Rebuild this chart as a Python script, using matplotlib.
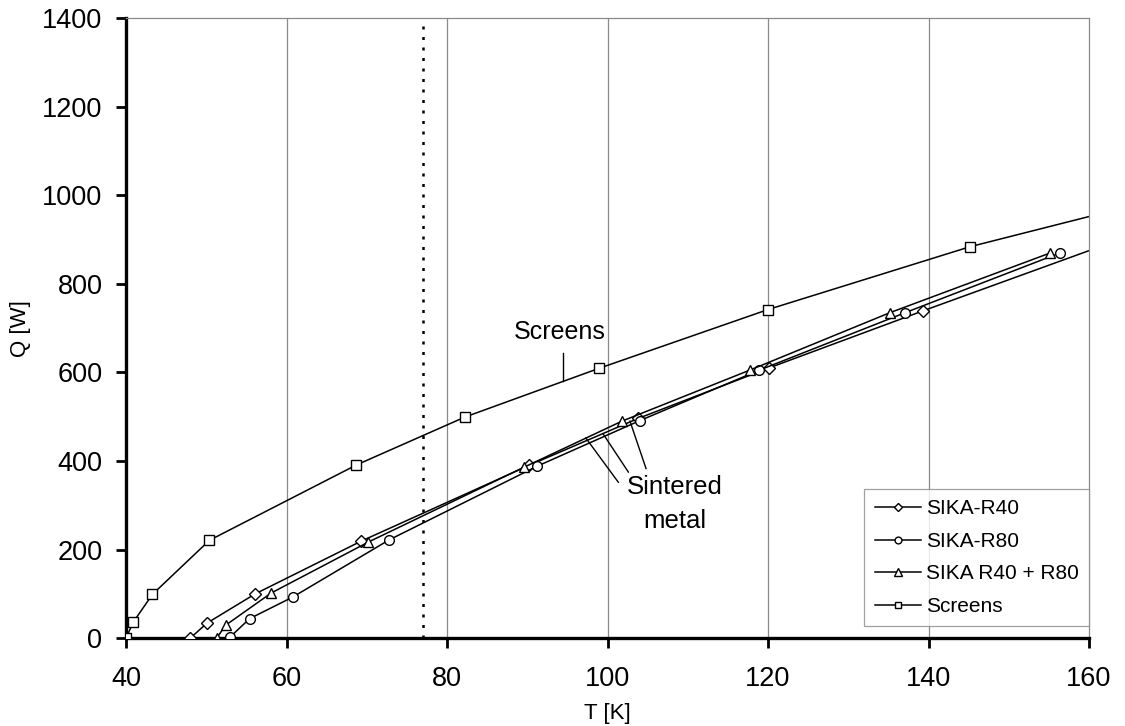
#!/usr/bin/env python3
"""
Heat load Q versus temperature T for sintered metal regenerators and screens.
"""

import matplotlib
matplotlib.use("Agg")
import matplotlib.pyplot as plt

plt.rcParams["font.family"] = ["Liberation Sans", "DejaVu Sans"]

# Measured points (T in K, Q in W)
T_R40 = [48.0, 50.1, 56.1, 69.3, 90.2, 103.8, 120.1, 139.3]
Q_R40 = [0, 34, 100, 219, 390, 496, 610, 739]

T_R80 = [53.0, 55.4, 60.8, 72.8, 91.2, 104.0, 118.9, 137.1, 156.4]
Q_R80 = [3, 44, 93, 222, 388, 491, 605, 735, 870]

T_R40_R80 = [51.3, 52.4, 58.1, 70.2, 89.6, 101.8, 117.7, 135.2, 155.2]
Q_R40_R80 = [0, 29, 102, 217, 386, 490, 605, 735, 870]

T_SCREENS = [40.0, 40.9, 43.3, 50.4, 68.7, 82.2, 98.9, 120.0, 145.2]
Q_SCREENS = [0, 36, 99, 221, 391, 499, 609, 742, 884]

# Extrapolated end points of the curves up to 160 K
T_R40_EXT = [139.3, 160.0]
Q_R40_EXT = [739, 875]
T_SCREENS_EXT = [145.2, 160.0]
Q_SCREENS_EXT = [884, 952]

T_LN2 = 77  # liquid nitrogen temperature

X_TICKS = [40, 60, 80, 100, 120, 140, 160]
Y_TICKS = [0, 200, 400, 600, 800, 1000, 1200, 1400]

SERIES = [
    ("SIKA-R40", T_R40, Q_R40, "D", 6.0),
    ("SIKA-R80", T_R80, Q_R80, "o", 7.0),
    ("SIKA R40 + R80", T_R40_R80, Q_R40_R80, "^", 7.5),
    ("Screens", T_SCREENS, Q_SCREENS, "s", 7.0),
]


fig = plt.figure(figsize=(11.25, 7.26), dpi=100)
ax = fig.add_axes([0.112, 0.121, 0.856, 0.854])

for x in X_TICKS[1:-1]:
    ax.axvline(x, color="#8a8a8a", linewidth=0.9, zorder=0)
ax.axvline(T_LN2, color="black", linestyle=(0, (1.2, 3)), linewidth=1.8, zorder=1)

ax.plot(T_R40_EXT, Q_R40_EXT, color="black", linewidth=1.1, zorder=2)
ax.plot(T_SCREENS_EXT, Q_SCREENS_EXT, color="black", linewidth=1.1, zorder=2)

for label, t, q, marker, size in SERIES:
    ax.plot(
        t,
        q,
        color="black",
        linewidth=1.1,
        marker=marker,
        markersize=size,
        markerfacecolor="white",
        markeredgecolor="black",
        markeredgewidth=1.0,
        label=label,
        zorder=3,
    )

# Annotations
ax.text(94.0, 665, "Screens", fontsize=18, ha="center", va="bottom")
ax.plot([94.5, 94.5], [643, 580], color="black", linewidth=1.0)

ax.text(108.4, 368, "Sintered\nmetal", fontsize=18.5, ha="center", va="top", linespacing=1.5)
for (x0, y0), (x1, y1) in [
    ((101.35, 352), (97.3, 452)),
    ((102.6, 375), (99.5, 460)),
    ((104.8, 383), (102.8, 490)),
]:
    ax.plot([x0, x1], [y0, y1], color="black", linewidth=1.0)

ax.set_xlim(40, 160)
ax.set_ylim(0, 1400)
ax.set_xticks(X_TICKS)
ax.set_yticks(Y_TICKS)
ax.tick_params(axis="both", labelsize=19.5, direction="out", length=7, width=2)
ax.tick_params(axis="y", pad=10)
ax.tick_params(axis="x", pad=13)

for side in ("left", "bottom"):
    ax.spines[side].set_linewidth(2.4)
    ax.spines[side].set_color("black")
for side in ("top", "right"):
    ax.spines[side].set_linewidth(0.9)
    ax.spines[side].set_color("#8a8a8a")

ax.set_xlabel("T [K]", fontsize=16, labelpad=8)
ax.set_ylabel("Q [W]", fontsize=16, labelpad=8)

legend = ax.legend(
    loc="lower right",
    bbox_to_anchor=(1.0, 0.019),
    borderaxespad=0,
    fontsize=15,
    frameon=True,
    fancybox=False,
    handlelength=2.2,
    handletextpad=0.25,
    labelspacing=0.65,
    borderpad=0.5,
    markerscale=0.7,
)
legend.get_frame().set_edgecolor("#8a8a8a")
legend.get_frame().set_linewidth(0.9)

fig.savefig("out.png", dpi=100)
plt.close(fig)
